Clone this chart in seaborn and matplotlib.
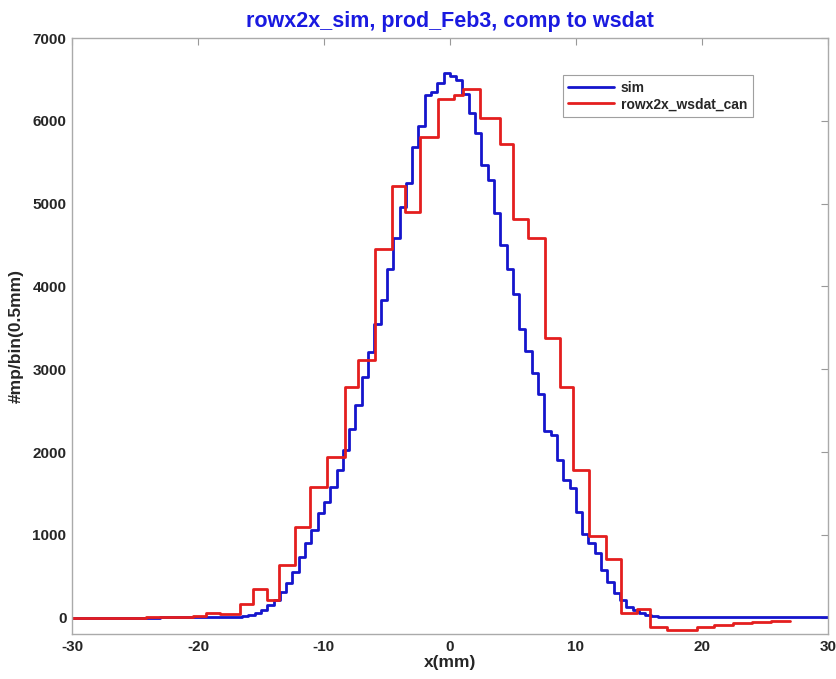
import numpy as np
import matplotlib
matplotlib.use("Agg")
import matplotlib.pyplot as plt
import seaborn as sns

# ---- data ----
sim_bin_width = 0.5
sim_start = -30.0
sim_counts = (
    [0] * 12
    + [1, 1, 2, 2, 2, 3, 3, 4]
    + [3, 4, 5, 6, 7, 8]
    + [10, 20, 35, 51, 91, 151, 211, 312, 420, 553, 734, 896, 1057, 1258, 1398,
       1572, 1781, 2023, 2273, 2566, 2908, 3210, 3545, 3835, 4205, 4580, 4961,
       5244, 5679, 5940, 6310, 6350, 6459, 6572,
       6540, 6490, 6330, 6100, 5848, 5465, 5284, 4882, 4499, 4205, 3907, 3481,
       3222, 2949, 2700, 2256, 2204, 1902, 1661, 1560, 1278, 1008, 896, 783, 574,
       432, 300, 211, 130, 91, 58, 30, 15, 10]
    + [8, 7, 6, 5, 5, 4, 4, 4, 3, 3, 3, 3, 3, 3, 3, 3, 3, 3, 3, 3, 3, 3, 3, 3, 3, 3]
)

ws_edges = [-30, -24.1, -20.4, -19.4, -18.25, -16.67, -15.66, -14.55, -13.55, -12.3,
            -11.11, -9.79, -8.33, -7.28, -5.95, -4.63, -3.6, -2.36, -0.93, 0.34,
            1.06, 2.38, 3.97, 5.02, 6.21, 7.54, 8.73, 9.79, 11.03, 12.36,
            13.55, 14.82, 15.91, 17.2, 19.58, 21.0, 22.5, 24.0, 25.5, 27.0]
ws_counts = [0, 10, 25, 60, 40, 170, 345, 215, 640, 1095,
             1580, 1940, 2790, 3114, 4455, 5215, 4900, 5810, 6260, 6310,
             6385, 6030, 5725, 4810, 4590, 3380, 2780, 1780, 985, 705,
             58, 110, -115, -150, -110, -90, -70, -50, -35]

x_ticks = [-30, -20, -10, 0, 10, 20, 30]
y_ticks = [0, 1000, 2000, 3000, 4000, 5000, 6000, 7000]

title = "rowx2x_sim, prod_Feb3, comp to wsdat"
xlabel = "x(mm)"
ylabel = "#mp/bin(0.5mm)"
labels = ["sim", "rowx2x_wsdat_can"]

# ---- plot ----
sns.set_theme(style="white")
plt.rcParams['font.family'] = ['Liberation Sans', 'DejaVu Sans']
plt.rcParams['axes.unicode_minus'] = False

fig = plt.figure(figsize=(8.37, 6.79), dpi=100)
ax = fig.add_axes([0.086, 0.066, 0.903, 0.878])

sim_edges = sim_start + sim_bin_width * np.arange(len(sim_counts) + 1)
sim_y = list(sim_counts) + [sim_counts[-1]]
ws_y = list(ws_counts) + [ws_counts[-1]]

sns.lineplot(x=sim_edges, y=sim_y, drawstyle="steps-post", color="#1515cc",
             linewidth=2.0, label=labels[0], ax=ax, estimator=None, sort=False)
sns.lineplot(x=ws_edges, y=ws_y, drawstyle="steps-post", color="#e41e1e",
             linewidth=2.0, label=labels[1], ax=ax, estimator=None, sort=False)

ax.set_xlim(-30, 30)
ax.set_ylim(-200, 7000)
ax.set_xticks(x_ticks)
ax.set_yticks(y_ticks)
ax.tick_params(direction="in", length=5, width=0.8, color="#999999",
               top=True, right=True, labelsize=11, pad=4)
for lab in ax.get_xticklabels() + ax.get_yticklabels():
    lab.set_fontweight("bold")
for sp in ax.spines.values():
    sp.set_color("#aaaaaa")
    sp.set_linewidth(1.0)

ax.set_title(title, color="#1a1ae0", fontsize=15.5, fontweight="bold", pad=8)
ax.set_xlabel(xlabel, fontsize=12.5, fontweight="bold", labelpad=1)
ax.set_ylabel(ylabel, fontsize=12.5, fontweight="bold", labelpad=6)

leg = ax.legend(loc="upper left", bbox_to_anchor=(0.649, 0.938), frameon=True,
                fancybox=False, handlelength=3.3, handletextpad=0.5,
                borderpad=0.4, labelspacing=0.2,
                borderaxespad=0, prop={"weight": "bold", "size": 10})
leg.get_frame().set_edgecolor("#888888")
leg.get_frame().set_linewidth(0.8)

fig.savefig("out.png", dpi=100)
